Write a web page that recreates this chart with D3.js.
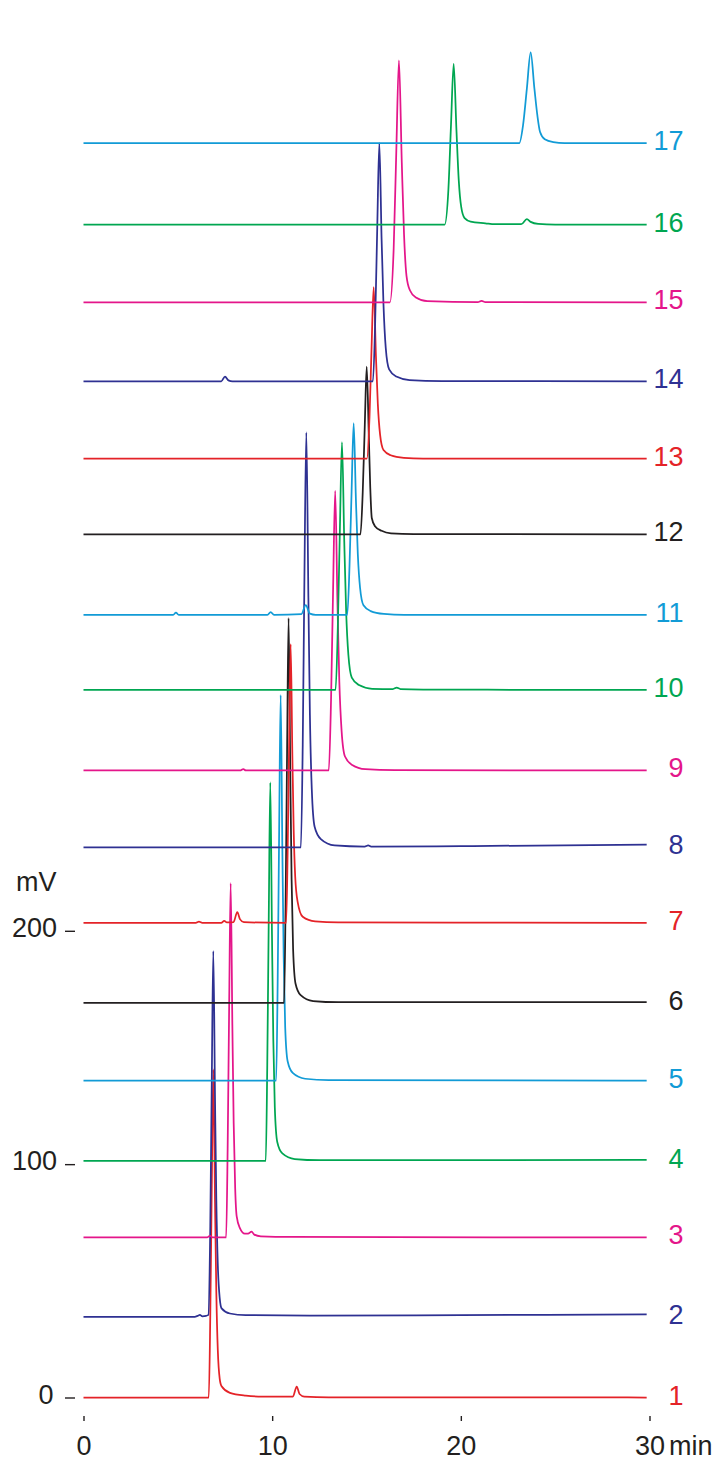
<!DOCTYPE html>
<html>
<head>
<meta charset="utf-8">
<script src="https://cdn.jsdelivr.net/npm/d3@7"></script>
<style>
  html, body { margin: 0; padding: 0; background: #ffffff; }
  svg { display: block; }
</style>
</head>
<body>
<svg id="chart" width="717" height="1483"></svg>
<script>
// ---------------- DATA ----------------
const labels = ["1","2","3","4","5","6","7","8","9","10","11","12","13","14","15","16","17"];
// baseline offset of each trace (mV)
const offsets = [0, 34.6, 68.6, 101.4, 135.8, 169.1, 203.4, 235.7, 268.7, 303.2, 335.4, 369.9, 402.3, 435.5, 469.3, 502.6, 537.6];
// each trace: [time (min), signal above its own baseline (mV)]
const trace1 = [[0,0],[6.64,0],[6.72,35],[6.80,91],[6.88,140.6],[6.97,84],[7.04,45],[7.12,20],[7.22,8],[7.32,4.8],[7.76,2],[8.6,0.8],[9.5,0.4],[11.1,0.4],[11.3,4.7],[11.45,1.5],[11.7,0.4],[13,0.1],[29.85,0]];
const trace2 = [[0,0],[5.9,0],[6.05,0.4],[6.17,0.8],[6.3,0.2],[6.5,0.4],[6.62,0.8],[6.72,39],[6.80,102],[6.88,156.7],[6.97,94],[7.04,50],[7.12,22],[7.22,8],[7.32,3.6],[7.76,1.4],[8.6,0.7],[12,0.5],[20,0.7],[29.85,1]];
const trace3 = [[0,0],[6.55,0],[6.7,0.7],[6.85,0],[7.56,0],[7.64,38],[7.72,99],[7.80,151.8],[7.89,91],[7.96,49],[8.04,21],[8.12,9],[8.29,4],[8.55,1.6],[8.72,1.6],[8.91,2.5],[9.05,1.2],[9.4,0.5],[11,0.2],[29.85,0]];
const trace4 = [[0,0],[9.66,0],[9.74,41],[9.82,105],[9.90,162.2],[9.99,97],[10.06,52],[10.14,23],[10.27,8.1],[10.54,3.2],[11.2,0.8],[12.5,0.3],[29.85,0.4]];
const trace5 = [[0,0],[10.21,0],[10.29,41],[10.37,107],[10.45,165.2],[10.54,99],[10.61,53],[10.69,23],[10.82,8.3],[11.09,3.3],[11.75,0.8],[13,0.2],[29.85,0]];
const trace6 = [[0,0],[10.63,0],[10.71,41],[10.79,107],[10.87,164.9],[10.96,99],[11.03,53],[11.11,23],[11.24,8.2],[11.51,3.3],[12.17,0.8],[13.5,0.3],[29.85,0.3]];
const trace7 = [[0,0],[5.95,0],[6.12,0.5],[6.3,0],[7.3,0],[7.46,0.9],[7.6,0.2],[7.95,0.3],[8.15,4.6],[8.3,1.5],[8.5,0.3],[10.74,0],[10.82,30],[10.90,78],[10.98,119.5],[11.07,72],[11.14,40],[11.22,20],[11.35,9],[11.62,2.6],[12.28,0.6],[13.5,0.2],[29.85,0]];
const trace8 = [[0,0],[11.52,0],[11.62,44],[11.71,116],[11.81,177.9],[11.92,107],[12.00,57],[12.10,25],[12.25,8.9],[12.58,3.6],[13.31,0.9],[14.9,0.4],[15.09,0.9],[15.25,0.4],[20,0.6],[29.85,1.2]];
const trace9 = [[0,0],[8.3,0],[8.47,0.6],[8.6,0],[13.00,0],[13.12,30],[13.23,78],[13.34,119.8],[13.46,72],[13.56,38],[13.68,17],[13.86,6],[14.24,2.4],[14.94,0.6],[16.5,0.2],[29.85,0]];
const trace10 = [[0,0],[13.36,0],[13.48,27],[13.59,69],[13.70,106.2],[13.82,64],[13.92,34],[14.04,15],[14.22,5.3],[14.60,2.1],[15.30,0.5],[16.4,0.4],[16.6,1],[16.8,0.4],[18,0.2],[29.85,0]];
const trace11 = [[0,0],[4.75,0],[4.9,1],[5.05,0],[9.75,0],[9.92,1.2],[10.1,0],[11.55,0.3],[11.78,4.2],[12.0,0.5],[12.3,0],[13.98,0],[14.10,21],[14.21,53],[14.32,82.2],[14.44,49],[14.54,26],[14.66,11.5],[14.84,4.1],[15.22,1.6],[15.92,0.4],[17,0],[29.85,0]];
const trace12 = [[0,0],[14.68,0],[14.80,18],[14.91,47],[15.01,71.9],[15.12,43],[15.20,20],[15.28,7],[15.45,3.5],[15.8,1.5],[16.3,0.4],[17.5,0.1],[29.85,0]];
const trace13 = [[0,0],[15.02,0],[15.16,18],[15.27,48],[15.38,73.5],[15.50,44],[15.60,23.5],[15.72,10.3],[15.90,3.7],[16.28,1.5],[16.98,0.4],[18,0.1],[29.85,0]];
const trace14 = [[0,0],[7.3,0],[7.5,2],[7.68,0.4],[7.9,0],[15.34,0],[15.46,25.5],[15.57,66],[15.68,102.1],[15.80,61],[15.90,33],[16.02,14.3],[16.20,5.1],[16.58,2],[17.28,0.5],[19,0.1],[29.85,0]];
const trace15 = [[0,0],[16.24,0],[16.44,23],[16.58,65],[16.72,103.7],[16.87,60],[16.99,29],[17.12,11.4],[17.30,5.2],[17.62,2.1],[18.22,0.5],[20.9,0.1],[21.1,0.7],[21.3,0.1],[29.85,0]];
const trace16 = [[0,0],[19.14,0],[19.34,15],[19.48,43],[19.62,68.9],[19.77,40],[19.89,19],[20.02,7.6],[20.20,2.8],[20.52,1.3],[21.3,0.6],[21.8,0.2],[23.2,0.2],[23.5,2.4],[23.7,1.2],[24.1,0.3],[25,0],[29.85,0]];
const trace17 = [[0,0],[23.10,0],[23.30,7.8],[23.50,23.3],[23.70,38.8],[23.90,23.3],[24.06,11.6],[24.20,4.7],[24.45,1.6],[24.90,0.4],[25.5,0],[29.85,0]];
const traces = [trace1,trace2,trace3,trace4,trace5,trace6,trace7,trace8,trace9,trace10,trace11,trace12,trace13,trace14,trace15,trace16,trace17];

const xTicks = [0, 10, 20, 30];
const yTicks = [0, 100, 200];
const xUnit = "min";
const yUnit = "mV";

// ---------------- STYLE ----------------
const RED = "#e42328", NAVY = "#2e3192", MAG = "#e4168a", GREEN = "#00a651", CYAN = "#129bd6", BLACK = "#231f20";
const palette = [RED, NAVY, MAG, GREEN, CYAN, BLACK];
const FONT = "'Liberation Sans', Arial, Helvetica, sans-serif";
const TEXT = "#231f20";

// ---------------- CHART ----------------
const svg = d3.select("#chart");
svg.append("rect").attr("width", 717).attr("height", 1483).attr("fill", "#ffffff");

const x = d3.scaleLinear().domain([0, 30]).range([83.5, 649.5]);
const y = d3.scaleLinear().domain([0, 200]).range([1397.5, 930.8]);

// traces
traces.forEach((pts, i) => {
  const off = offsets[i];
  const line = d3.line()
    .x(d => x(d[0]))
    .y(d => y(d[1] + off))
    .curve(d3.curveMonotoneX);
  svg.append("path")
    .datum(pts)
    .attr("fill", "none")
    .attr("stroke", palette[i % palette.length])
    .attr("stroke-width", 1.75)
    .attr("stroke-linejoin", "round")
    .attr("d", line);
});

// trace labels on the right
svg.append("g")
  .selectAll("text")
  .data(labels)
  .join("text")
  .attr("x", 683.5)
  .attr("y", (d, i) => y(offsets[i]) + 7)
  .attr("text-anchor", "end")
  .attr("font-family", FONT)
  .attr("font-size", 27)
  .attr("fill", (d, i) => palette[i % palette.length])
  .text(d => d);

// y axis (ticks + labels only)
const yAxis = svg.append("g")
  .attr("transform", "translate(75,0)")
  .call(d3.axisLeft(y).tickValues(yTicks).tickSize(10).tickPadding(8).tickFormat(d3.format("d")));
yAxis.select(".domain").remove();
yAxis.selectAll(".tick line").attr("stroke", TEXT).attr("stroke-width", 1.4);
yAxis.selectAll(".tick text")
  .attr("font-family", FONT).attr("font-size", 27).attr("fill", TEXT).attr("dy", "0.21em")
  .attr("dx", d => d === 0 ? -3.5 : 0);

// x axis (ticks + labels only)
const xAxis = svg.append("g")
  .attr("transform", "translate(0,1416)")
  .call(d3.axisBottom(x).tickValues(xTicks).tickSize(5).tickPadding(15).tickFormat(d3.format("d")));
xAxis.select(".domain").remove();
xAxis.selectAll(".tick line").attr("stroke", TEXT).attr("stroke-width", 1.4);
xAxis.selectAll(".tick text")
  .attr("font-family", FONT).attr("font-size", 27).attr("fill", TEXT);

// units
svg.append("text")
  .attr("x", 669).attr("y", 1455)
  .attr("font-family", FONT).attr("font-size", 27).attr("fill", TEXT)
  .text(xUnit);
svg.append("text")
  .attr("x", 16).attr("y", 890.5)
  .attr("font-family", FONT).attr("font-size", 27).attr("fill", TEXT)
  .text(yUnit);
</script>
</body>
</html>
